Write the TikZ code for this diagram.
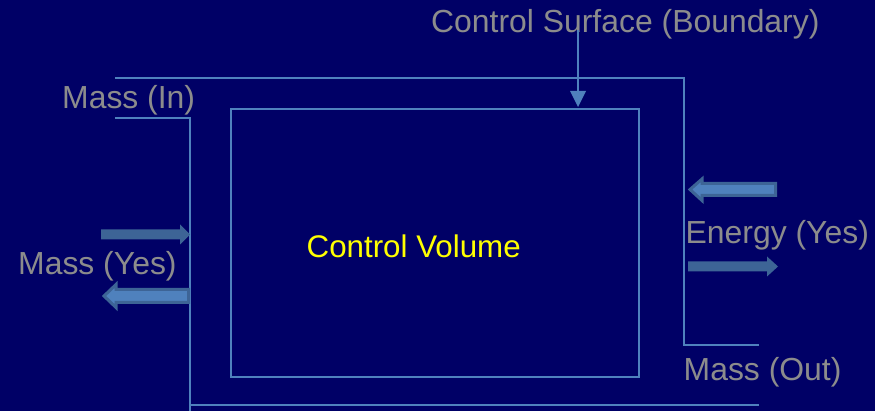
\documentclass[tikz,border=0pt]{standalone}
\usepackage{fontspec}
\setmainfont{Liberation Sans}
\definecolor{bg}{RGB}{0,0,102}
\definecolor{wire}{RGB}{79,129,189}
\definecolor{arrdark}{RGB}{61,100,150}
\definecolor{arrlight}{RGB}{79,129,189}
\definecolor{lbl}{RGB}{140,140,140}
\definecolor{cvtext}{RGB}{255,255,0}
\tikzset{
  wireline/.style={draw=wire, line width=1.6pt},
  lbltext/.style={text=lbl, inner sep=0pt, anchor=base west, font=\fontsize{31.9}{36}\selectfont},
  solidarrow/.style={fill=arrdark, draw=none},
  outlinearrow/.style={fill=arrlight, draw=arrdark, line width=3pt, line join=miter},
}
\begin{document}
\begin{tikzpicture}[x=1pt,y=-1pt]
\useasboundingbox (0,0) rectangle (875,411);
\fill[bg] (0,0) rectangle (875,411);

% inner control volume
\node[draw=wire, line width=1.6pt, minimum width=408pt, minimum height=268pt, inner sep=0pt, anchor=north west] (cv) at (230,108) {};
\node[text=cvtext, inner sep=0pt, anchor=base west, font=\fontsize{31.3}{36}\selectfont] (cvl) at (306.5,257.5) {Control Volume};

% control surface boundary
\coordinate (tA) at (115,78);
\coordinate (tB) at (684,78);
\coordinate (rB) at (684,345);
\coordinate (rC) at (759,345);
\coordinate (lA) at (115,118);
\coordinate (lB) at (190,118);
\coordinate (lC) at (190,411);
\coordinate (bA) at (190,405);
\coordinate (bB) at (759,405);
\draw[wireline] (tA) -- (tB) -- (rB) -- (rC);
\draw[wireline] (lA) -- (lB) -- (lC);
\draw[wireline] (bA) -- (bB);

% labels
\node[lbltext] (cs) at (431,33) {Control Surface (Boundary)};
\node[lbltext] (min) at (62,109) {Mass (In)};
\node[lbltext] (myes) at (18,275) {Mass (Yes)};
\node[lbltext] (eyes) at (685.5,243.5) {Energy (Yes)};
\node[lbltext] (mout) at (683.5,380) {Mass (Out)};

% control surface pointer
\coordinate (csP) at (578,30);
\coordinate (csT) at (578,107);
\draw[wire, line width=1.6pt] (csP) -- (578,92);
\fill[wire] (570,91) -- (586,91) -- (csT) -- cycle;

% mass in arrow (right)
\fill[solidarrow] (101,229.5) -- (180,229.5) -- (180,224.5) -- (190,234.5) -- (180,244.5) -- (180,239.5) -- (101,239.5) -- cycle;
% mass out arrow (left)
\draw[outlinearrow] (188.5,289.5) -- (116,289.5) -- (116,284.5) -- (104,296) -- (116,307.5) -- (116,302.5) -- (188.5,302.5) -- cycle;

% energy in arrow (left)
\draw[outlinearrow] (775.5,183.5) -- (702,183.5) -- (702,179) -- (690,189.5) -- (702,200.5) -- (702,195.5) -- (775.5,195.5) -- cycle;
% energy out arrow (right)
\fill[solidarrow] (688,261.5) -- (767,261.5) -- (767,256.5) -- (778,266.5) -- (767,276.5) -- (767,271.5) -- (688,271.5) -- cycle;
\end{tikzpicture}
\end{document}
